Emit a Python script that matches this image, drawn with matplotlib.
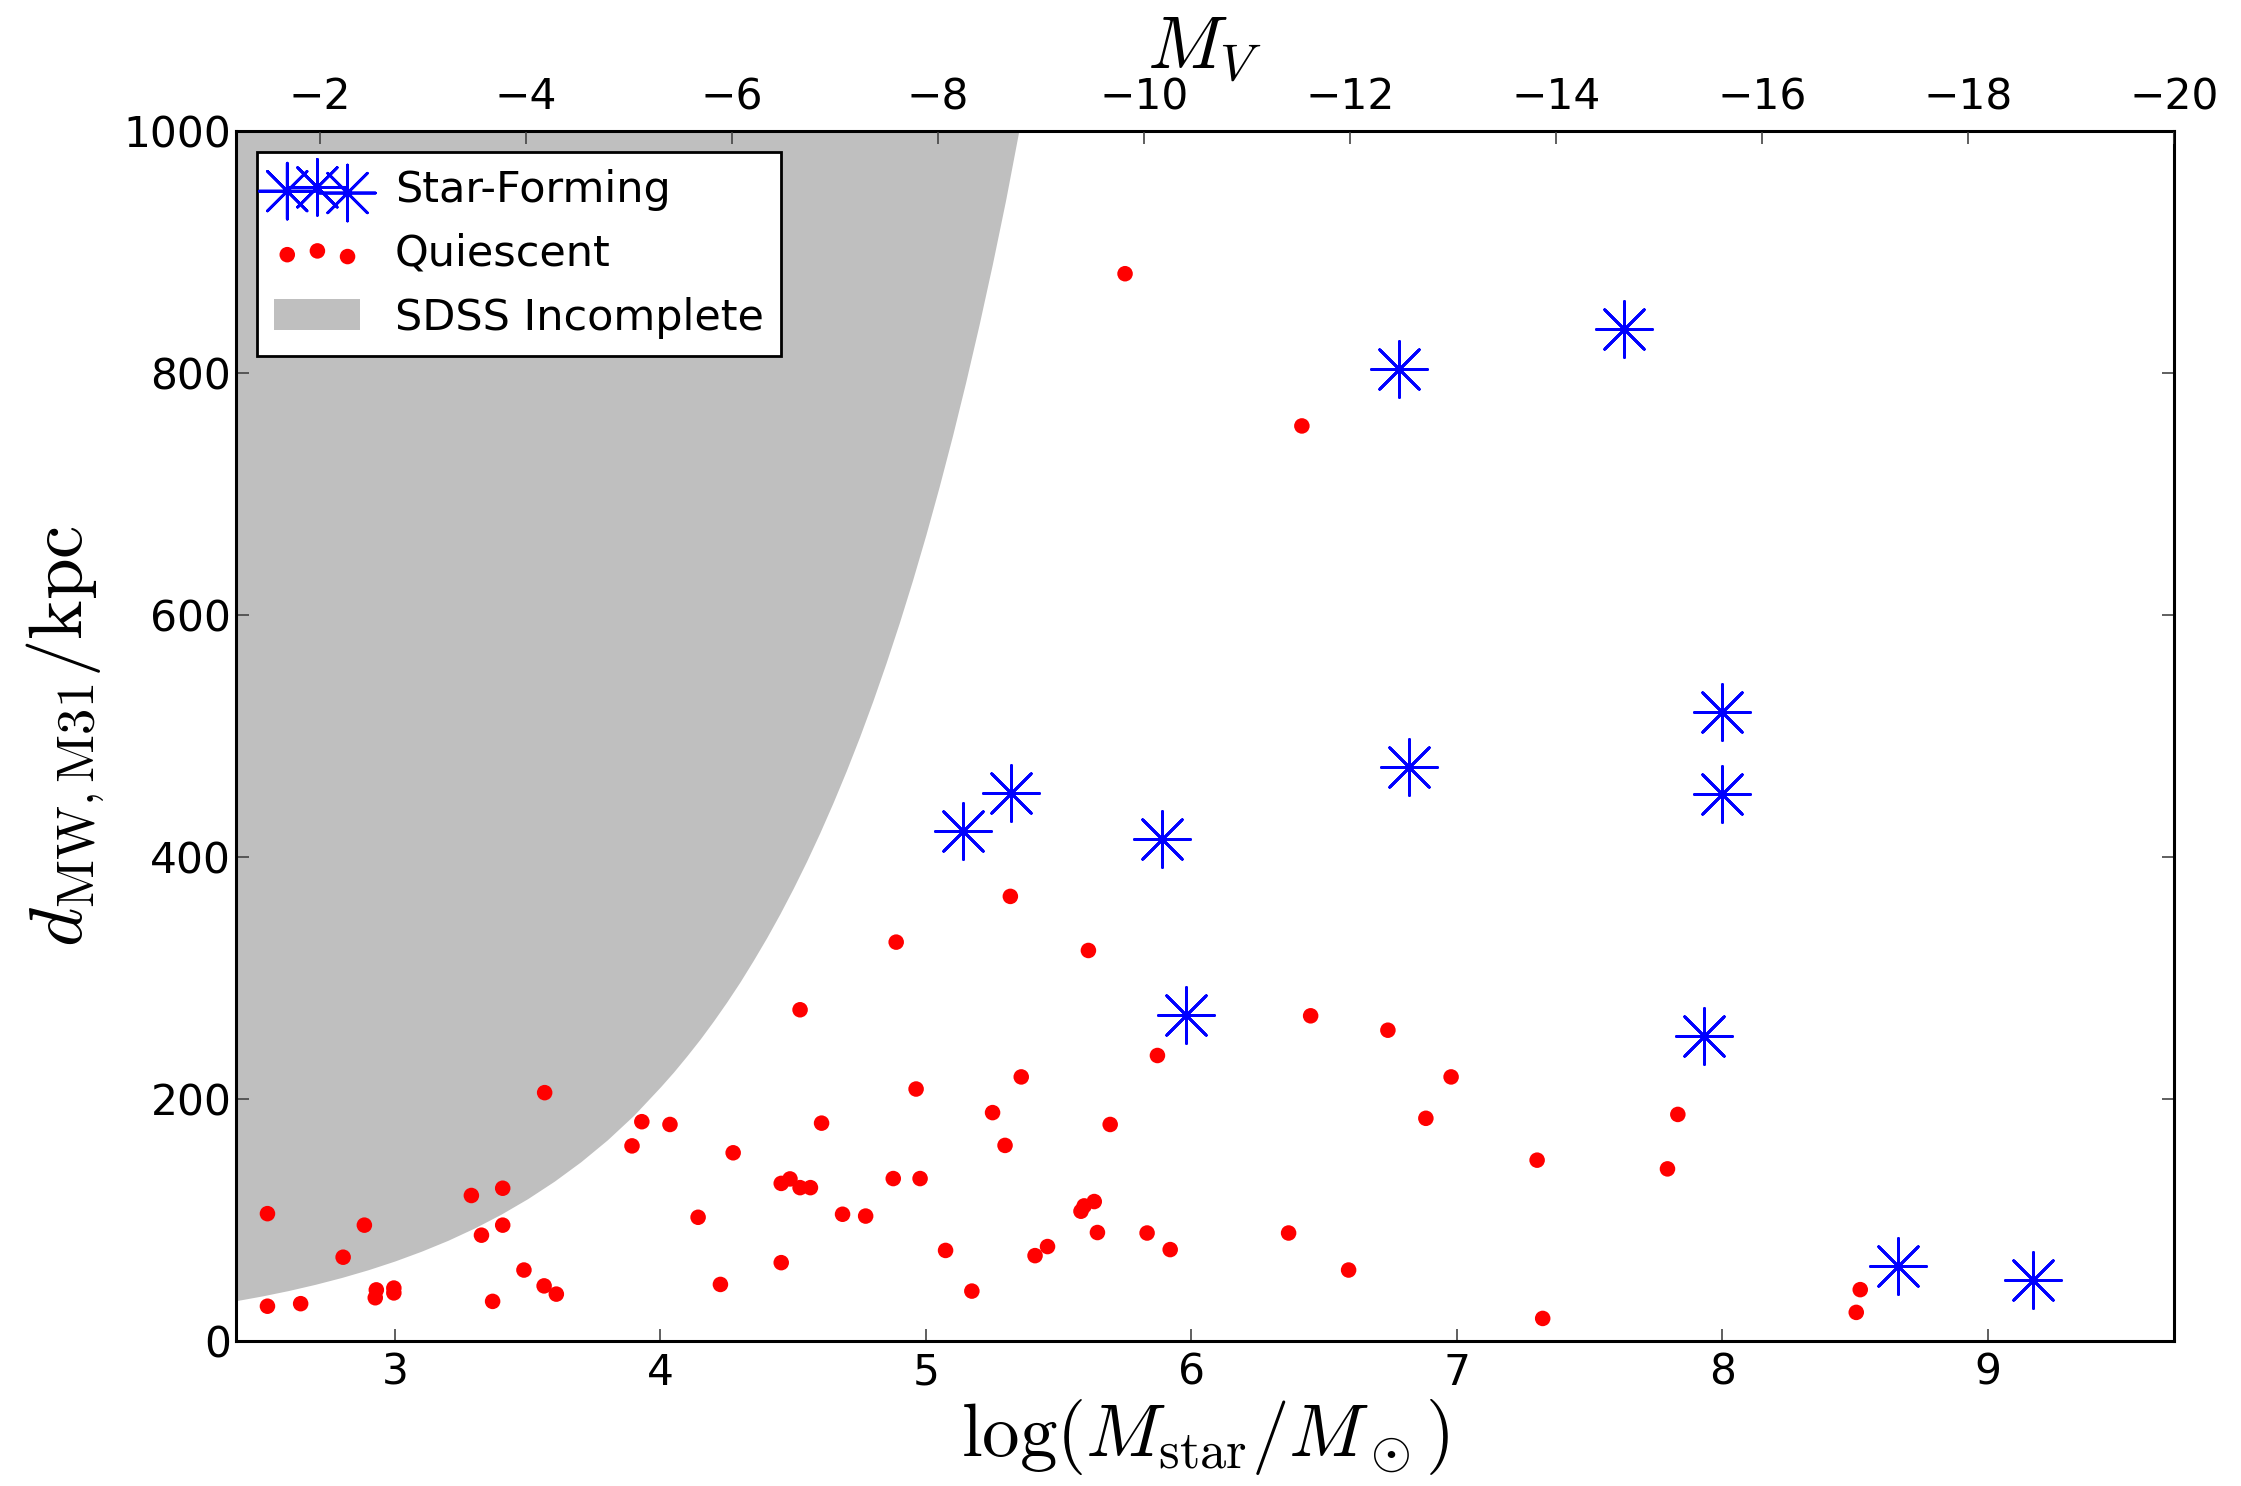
import matplotlib
matplotlib.use("Agg")
import matplotlib.pyplot as plt

plt.rcParams['mathtext.fontset'] = 'cm'
plt.rcParams['font.family'] = ['DejaVu Sans']

# Quiescent satellites: log stellar mass, distance (kpc)
q_logm = [2.52, 2.52, 2.645, 2.805, 2.885, 2.93, 2.926, 2.996, 2.996, 3.288,
          3.326, 3.406, 3.406, 3.368, 3.486, 3.562, 3.608, 3.564, 3.893, 3.930,
          4.036, 4.142, 4.226, 4.274, 4.455, 4.488, 4.526, 4.565, 4.455, 4.526,
          4.607, 4.686, 4.773, 4.877, 4.888, 4.963, 4.978, 5.074, 5.173, 5.251,
          5.298, 5.318, 5.359, 5.411, 5.458, 5.584, 5.596, 5.634, 5.612, 5.646,
          5.694, 5.833, 5.872, 5.920, 5.750, 6.366, 6.416, 6.449, 6.592, 6.740,
          6.883, 6.978, 7.302, 7.323, 7.793, 7.832, 8.504, 8.519]
q_dist = [105, 28.5, 30.6, 69, 95.5, 42, 35.5, 43.5, 39.5, 120,
          87.2, 126, 95.5, 32.5, 58.4, 45.3, 38.5, 205, 161, 181,
          178.7, 102, 46.5, 155.3, 130, 133.7, 126.5, 126.5, 64.5, 273.5,
          179.8, 104.5, 103, 134, 329.4, 208, 134, 74.6, 41, 188.5,
          161.4, 367.2, 218, 70.3, 77.8, 107, 111.4, 115, 322.5, 89.4,
          178.7, 89, 235.7, 75.3, 881.8, 89, 756, 268.5, 58.4, 256.6,
          183.8, 218, 149.2, 18.4, 142, 187, 23.4, 42.2]

# Star-forming satellites
sf_logm = [5.14, 5.32, 5.89, 5.98, 6.78, 6.82, 7.63, 8.00, 8.00, 7.93, 8.66, 9.17]
sf_dist = [421, 453, 414.5, 269, 803, 474, 836, 520, 452, 251.5, 61.6, 50.5]

# SDSS completeness boundary (read along the edge of the grey region)
inc_logm = [2.40, 2.50, 2.60, 2.70, 2.80, 2.90, 3.00, 3.10, 3.20, 3.30,
            3.40, 3.50, 3.60, 3.70, 3.80, 3.90, 4.00, 4.05, 4.10, 4.15,
            4.20, 4.25, 4.30, 4.35, 4.40, 4.45, 4.50, 4.55, 4.60, 4.65,
            4.70, 4.75, 4.80, 4.85, 4.90, 4.95, 5.00, 5.05, 5.10, 5.15,
            5.20, 5.25, 5.30, 5.35]
inc_dist = [33.0, 37.0, 41.5, 46.6, 52.3, 58.7, 65.9, 74.0, 83.0, 93.2,
            104.6, 117.4, 131.8, 147.9, 166.0, 186.4, 209.8, 222.2, 235.5, 249.4,
            264.3, 280.0, 296.6, 314.4, 333.0, 352.8, 373.8, 396.0, 419.6, 444.6,
            471.0, 499.0, 528.7, 560.2, 593.5, 628.8, 666.2, 705.9, 747.9, 792.4,
            839.5, 889.5, 942.5, 1000.0]

x_ticks = [3, 4, 5, 6, 7, 8, 9]
y_ticks = [0, 200, 400, 600, 800, 1000]
mv_ticks = [-2, -4, -6, -8, -10, -12, -14, -16, -18, -20]

W, H = 2241, 1486
fig = plt.figure(figsize=(W / 100, H / 100), dpi=100)
ax = fig.add_axes([235.6 / W, 1 - 1340.7 / H, (2173.8 - 235.6) / W, (1340.7 - 130.7) / H])

ax.fill_between(inc_logm, inc_dist, 1000, color='#bfbfbf', linewidth=0,
                label='SDSS Incomplete', zorder=1)
ax.scatter(sf_logm, sf_dist, s=1625, marker=(8, 2, 0), color='blue',
           linewidths=2, label='Star-Forming', zorder=3)
ax.scatter(q_logm, q_dist, s=125, marker='o', color='red', edgecolors='none',
           label='Quiescent', zorder=3)

ax.set_xlim(2.4, 9.7)
ax.set_ylim(0, 1000)
ax.set_xticks(x_ticks)
ax.set_yticks(y_ticks)
ax.tick_params(axis='both', direction='in', labelsize=30.5, length=9, width=1.2,
               color='#444444')
ax.tick_params(axis='x', pad=8)
ax.tick_params(axis='y', right=True, pad=3)
for sp in ax.spines.values():
    sp.set_linewidth(2.2)

ax.set_xlabel(r'$\log(M_{\rm star}/M_\odot)$', fontsize=54, labelpad=2)
ax.set_ylabel(r'$d_{\rm MW,M31}/{\rm kpc}$', fontsize=54, labelpad=12)

ax2 = ax.twiny()
ax2.set_xlim(-1.18, -20)
ax2.set_xticks(mv_ticks)
ax2.tick_params(axis='x', direction='in', labelsize=30.5, length=9, width=1.2,
                color='#444444', pad=9)
ax2.set_xlabel(r'$M_V$', fontsize=54, labelpad=6)

h, l = ax.get_legend_handles_labels()
order = [l.index('Star-Forming'), l.index('Quiescent'), l.index('SDSS Incomplete')]
leg = ax.legend([h[i] for i in order], [l[i] for i in order], loc='upper left',
                fontsize=31, scatterpoints=3, fancybox=False, framealpha=1,
                edgecolor='black', borderaxespad=0.5, handlelength=2.0,
                labelspacing=0.5)
leg.get_frame().set_linewidth(2)

fig.savefig('out.png', dpi=100)
